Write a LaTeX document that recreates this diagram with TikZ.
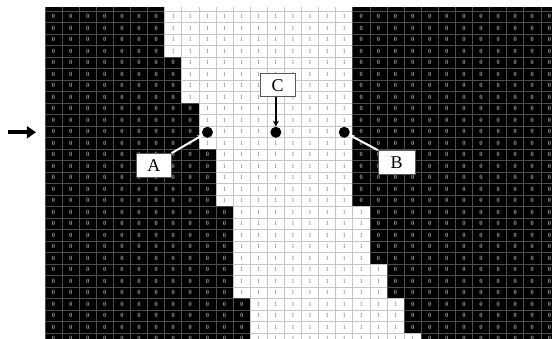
\documentclass[tikz,border=0pt]{standalone}
\usepackage{fontspec}
\setmainfont{Liberation Serif}
\usetikzlibrary{arrows.meta}

\begin{document}
\begin{tikzpicture}[x=17.1pt, y=-11.5pt,
        cell/.style={rectangle, minimum width=17.1pt, minimum height=11.5pt, inner sep=0pt, line width=0.7pt, font=\fontsize{6.5}{6.5}\selectfont},
        zero/.style={cell, fill=black, draw=gray!60!black, text=gray!90, font=\fontsize{6.5}{6.5}\selectfont\bfseries},
        one/.style={cell, fill=white, draw=gray!45, text=gray},
        marker/.style={circle, fill=black, minimum size=11pt, inner sep=0pt},
        labelbox/.style={rectangle, fill=white, draw=gray!70!black, line width=0.8pt, minimum width=35pt, minimum height=24pt, inner sep=1pt, font=\fontsize{18}{18}\selectfont}]
        \useasboundingbox (-2.6316,-0.9522) rectangle (29.6491,28.4391);

        \begin{scope}
        \clip (0,-0.3217) rectangle (29.6491,28.4391);
        \foreach \r/\lft/\rgt in {-1/7/17,0/7/17,1/7/17,2/7/17,3/7/17,4/8/17,5/8/17,6/8/17,7/8/17,
                8/9/17,9/9/17,10/9/17,11/9/17,12/10/17,13/10/17,14/10/17,15/10/17,16/10/17,
                17/11/18,18/11/18,19/11/18,20/11/18,21/11/18,22/11/19,23/11/19,24/11/19,
                25/12/20,26/12/20,27/12/20,28/12/21} {
            \foreach \c in {0,...,29} {
                \ifnum\c<\lft\relax
                    \node[zero] (cell-\c-\r) at (\c+0.5,\r+0.5) {0};
                \else\ifnum\c>\rgt\relax
                    \node[zero] (cell-\c-\r) at (\c+0.5,\r+0.5) {0};
                \else
                    \node[one] (cell-\c-\r) at (\c+0.5,\r+0.5) {1};
                \fi\fi
            }
        }
        \end{scope}

        \coordinate (arrowtail) at (-2.17,10.55);
        \coordinate (arrowtip) at (-0.53,10.55);
        \draw[-{Triangle[length=9pt,width=12pt]}, line width=4pt] (arrowtail) -- (arrowtip);

        \node[marker] (dotA) at (9.5,10.55) {};
        \node[marker] (dotC) at (13.5,10.55) {};
        \node[marker] (dotB) at (17.5,10.55) {};

        \node[labelbox] (labA) at (6.36,13.44) {A};
        \node[labelbox, minimum width=37pt] (labB) at (20.57,13.18) {B};
        \node[labelbox, minimum height=23pt] (labC) at (13.6,6.47) {C};

        \draw[-{Stealth[length=5pt,width=5pt]}, white, line width=2pt] (labA.north east) -- (dotA);
        \draw[-{Stealth[length=5pt,width=5pt]}, white, line width=2pt] (labB.north west) -- (dotB);
        \draw[-{Stealth[length=6pt,width=6pt]}, line width=1.5pt] (labC.south -| dotC) -- (dotC);
    \end{tikzpicture}
\end{document}
